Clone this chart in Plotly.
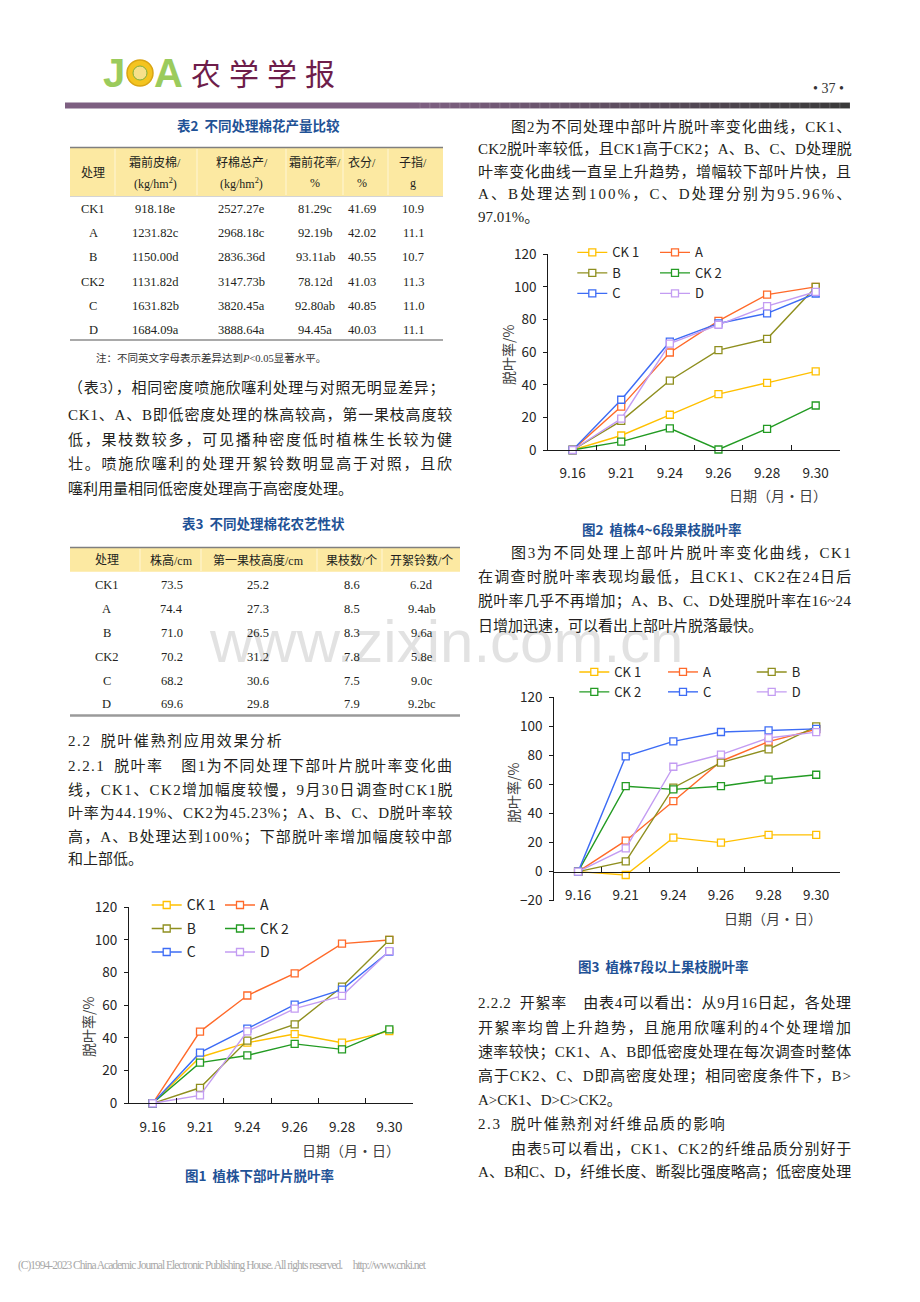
import plotly.graph_objects as go

# The page body has an 8px default margin, so the figure is 8px smaller and offset.
OFF = 8
FW, FH = 920 - OFF, 1302 - OFF
def X(p): return (p - OFF) / FW
def Y(p): return 1 - (p - OFF) / FH

BODY = "Liberation Serif, Noto Sans CJK SC"
CJK = "Noto Sans CJK SC"
TXT = "#231F20"
BLUE = "#1F5296"

# ---------------- data ----------------
dates = ["9.16", "9.21", "9.24", "9.26", "9.28", "9.30"]
series_names = ["CK 1", "A", "B", "CK 2", "C", "D"]
series_colors = ["#FFC000", "#FF6A2A", "#8F8F1F", "#239B23", "#3D6CF5", "#C39CF2"]

fig1_ck1 = [0, 28.2, 37.1, 42.4, 37.1, 44.19]
fig1_a = [0, 43.9, 66.0, 79.5, 97.8, 100]
fig1_b = [0, 9.5, 38.4, 48.3, 71.4, 100]
fig1_ck2 = [0, 24.9, 29.3, 36.4, 33.0, 45.23]
fig1_c = [0, 31.0, 45.7, 60.4, 69.6, 92.9]
fig1_d = [0, 4.8, 44.0, 58.0, 65.8, 93.2]

fig2_ck1 = [0, 8.9, 21.6, 34.3, 41.2, 48.2]
fig2_a = [0, 26.6, 59.8, 79.2, 95.3, 100]
fig2_b = [0, 17.9, 42.6, 61.2, 68.2, 100]
fig2_ck2 = [0, 5.1, 13.3, 0.3, 13.0, 27.3]
fig2_c = [0, 30.8, 66.4, 77.6, 83.8, 95.96]
fig2_d = [0, 19.2, 65.2, 76.8, 88.2, 97.01]

fig3_ck1 = [0, -2.3, 23.4, 20.0, 25.3, 25.3]
fig3_a = [0, 21.3, 48.5, 76.0, 89.5, 98.0]
fig3_b = [0, 7.0, 57.8, 75.0, 84.2, 100]
fig3_ck2 = [0, 58.8, 56.6, 58.8, 63.4, 66.7]
fig3_c = [0, 79.4, 89.7, 96.1, 97.2, 98.3]
fig3_d = [0, 16.0, 72.2, 80.6, 92.0, 96.0]

y_ticks_12 = [0, 20, 40, 60, 80, 100, 120]
y_ticks_3 = [-20, 0, 20, 40, 60, 80, 100, 120]

t2_treat = ["CK1", "A", "B", "CK2", "C", "D"]
t2_lint = ["918.18e", "1231.82c", "1150.00d", "1131.82d", "1631.82b", "1684.09a"]
t2_seed = ["2527.27e", "2968.18c", "2836.36d", "3147.73b", "3820.45a", "3888.64a"]
t2_rate = ["81.29c", "92.19b", "93.11ab", "78.12d", "92.80ab", "94.45a"]
t2_lintpct = ["41.69", "42.02", "40.55", "41.03", "40.85", "40.03"]
t2_seedidx = ["10.9", "11.1", "10.7", "11.3", "11.0", "11.1"]
t2_head1 = ["霜前皮棉/", "籽棉总产/", "霜前花率/", "衣分/", "子指/"]
t2_head2 = ["(kg/hm<sup>2</sup>)", "(kg/hm<sup>2</sup>)", "%", "%", "g"]

t3_treat = ["CK1", "A", "B", "CK2", "C", "D"]
t3_height = ["73.5", "74.4", "71.0", "70.2", "68.2", "69.6"]
t3_first = ["25.2", "27.3", "26.5", "31.2", "30.6", "29.8"]
t3_branches = ["8.6", "8.5", "8.3", "7.8", "7.5", "7.9"]
t3_bolls = ["6.2d", "9.4ab", "9.6a", "5.8e", "9.0c", "9.2bc"]
t3_head = ["处理", "株高/cm", "第一果枝高度/cm", "果枝数/个", "开絮铃数/个"]

fig = go.Figure()

# ---------------- charts ----------------
charts = [
    dict(xa="x", ya="y", data=[fig1_ck1, fig1_a, fig1_b, fig1_ck2, fig1_c, fig1_d],
         legs=["legend", "legend2", "legend", "legend2", "legend", "legend2"]),
    dict(xa="x2", ya="y2", data=[fig2_ck1, fig2_a, fig2_b, fig2_ck2, fig2_c, fig2_d],
         legs=["legend3", "legend4", "legend3", "legend4", "legend3", "legend4"]),
    dict(xa="x3", ya="y3", data=[fig3_ck1, fig3_a, fig3_b, fig3_ck2, fig3_c, fig3_d],
         legs=["legend5", "legend6", "legend7", "legend5", "legend6", "legend7"]),
]
for ci, ch in enumerate(charts):
    for name, col, vals, lg in zip(series_names, series_colors, ch["data"], ch["legs"]):
        fig.add_trace(go.Scatter(
            x=dates, y=vals, mode="lines+markers", name=name,
            line=dict(color=col, width=1.4),
            marker=dict(symbol="square", size=7, color="white", line=dict(color=col, width=1.3)),
            xaxis=ch["xa"], yaxis=ch["ya"], legend=lg, legendgroup=f"g{ci}_{name}",
            cliponaxis=False, hoverinfo="skip"))

tickfont = dict(family=CJK, size=13.5, color="#262626")
def xax(dom, anchor, **kw):
    d = dict(domain=[X(dom[0]), X(dom[1])], anchor=anchor, type="category", range=[-0.5, 5.5],
             showline=True, linecolor="#1a1a1a", linewidth=1, ticks="inside", tickson="boundaries",
             ticklen=5, tickcolor="#1a1a1a", tickfont=tickfont, ticklabelstandoff=11,
             showgrid=False, zeroline=False, fixedrange=True, automargin=False)
    d.update(kw)
    return d
def yax(dom, anchor, rng, tv):
    return dict(domain=[Y(dom[0]), Y(dom[1])], anchor=anchor, range=rng, tickvals=tv,
                showline=True, linecolor="#1a1a1a", linewidth=1, ticks="outside", ticklen=4,
                tickcolor="#1a1a1a", tickfont=tickfont, ticklabelstandoff=4,
                showgrid=False, zeroline=False, fixedrange=True, automargin=False)

fig.update_layout(
    xaxis=xax((129, 413), "y"),
    yaxis=yax((1103.3, 907.3), "x", [0, 120], y_ticks_12),
    xaxis2=xax((548.3, 840), "y2"),
    yaxis2=yax((450, 254.3), "x2", [0, 120], y_ticks_12),
    xaxis3=xax((554.3, 840), "free", position=Y(871.7)),
    yaxis3=yax((900.7, 697.3), "x3", [-20, 120], y_ticks_3),
)

def legend_cfg(x_px, top_px, fs, gap):
    return dict(x=X(x_px), y=Y(top_px), xanchor="left", yanchor="top", orientation="v",
                bgcolor="rgba(0,0,0,0)", borderwidth=0, itemwidth=30, traceorder="grouped",
                font=dict(family=CJK, size=fs, color="#262626"), tracegroupgap=gap)

fig.update_layout(
    legend=legend_cfg(146.7, 889.4, 14, 2.3),
    legend2=legend_cfg(220, 889.4, 14, 2.3),
    legend3=legend_cfg(572.3, 237.4, 13, 0.6),
    legend4=legend_cfg(655, 237.4, 13, 0.6),
    legend5=legend_cfg(574.3, 657.0, 13, 0),
    legend6=legend_cfg(663, 657.0, 13, 0),
    legend7=legend_cfg(751.7, 657.0, 13, 0),
)

ann = []
shapes = []

def txt(x, y, s, size=12, family=BODY, color=TXT, xanchor="center", angle=0, bold=False):
    if bold:
        s = f"<b>{s}</b>"
    ann.append(dict(x=X(x), y=Y(y), xref="paper", yref="paper", text=s, showarrow=False,
                    xanchor=xanchor, yanchor="middle", textangle=angle, borderpad=0,
                    font=dict(family=family, size=size, color=color)))

# watermark (first -> bottom, translucent so marks stay visible)
txt(446, 642, "www.zixin.com.cn", size=60, family="Liberation Sans", color="rgba(160,160,160,0.30)")

# axis titles
for (x, y) in [(88, 1027), (508, 355), (513, 793)]:
    txt(x, y, "脱叶率/%", size=14, family=CJK, color="#404040", angle=-90)
for (x, y) in [(351, 1150), (778, 495), (773, 918)]:
    txt(x, y, "日期（月·日）", size=14, family=CJK, color="#404040")

# captions
txt(259, 1175, "图1  植株下部叶片脱叶率", size=13.5, family=CJK, color=BLUE, bold=True)
txt(662, 529, "图2  植株4~6段果枝脱叶率", size=13.5, family=CJK, color=BLUE, bold=True)
txt(663, 966, "图3  植株7段以上果枝脱叶率", size=13.5, family=CJK, color=BLUE, bold=True)
txt(258, 125, "表2  不同处理棉花产量比较", size=13.5, family=CJK, color=BLUE, bold=True)
txt(263, 523, "表3  不同处理棉花农艺性状", size=13.5, family=CJK, color=BLUE, bold=True)

# ---------------- table 2 ----------------
shapes.append(dict(type="rect", xref="paper", yref="paper", x0=X(70), x1=X(443), y0=Y(196), y1=Y(148),
                   fillcolor="#FCE9A2", line=dict(width=0), layer="below"))
for xs in [115, 197, 286, 343, 388]:
    shapes.append(dict(type="line", xref="paper", yref="paper", x0=X(xs), x1=X(xs), y0=Y(195), y1=Y(149),
                       line=dict(color="#FFF6D6", width=1)))
shapes.append(dict(type="line", xref="paper", yref="paper", x0=X(70), x1=X(443), y0=Y(147.5), y1=Y(147.5),
                   line=dict(color="#7F7F7F", width=1.3)))
shapes.append(dict(type="line", xref="paper", yref="paper", x0=X(70), x1=X(443), y0=Y(196.5), y1=Y(196.5),
                   line=dict(color="#C9C9C9", width=0.8)))
shapes.append(dict(type="line", xref="paper", yref="paper", x0=X(70), x1=X(443), y0=Y(340), y1=Y(340),
                   line=dict(color="#8C8C8C", width=1.5)))
t2_cols = [93.3, 155, 241.7, 315, 361.7, 413]
txt(t2_cols[0], 172.5, "处理", size=12)
for cx, h1, h2 in zip(t2_cols[1:], t2_head1, t2_head2):
    txt(cx, 162.7, h1, size=12)
    txt(cx, 183.3, h2, size=12)
t2_rows = [209, 233.3, 257.3, 281.7, 305.7, 330]
for i, ry in enumerate(t2_rows):
    for cx, col in zip(t2_cols, [t2_treat, t2_lint, t2_seed, t2_rate, t2_lintpct, t2_seedidx]):
        txt(cx, ry, col[i], size=12.5)
ann.append(dict(x=X(95), y=Y(358), xref="paper", yref="paper", showarrow=False, xanchor="left",
                yanchor="middle", borderpad=0,
                text="注：不同英文字母表示差异达到<i>P</i>&lt;0.05显著水平。",
                font=dict(family=BODY, size=10.5, color="#333333")))

# ---------------- table 3 ----------------
shapes.append(dict(type="rect", xref="paper", yref="paper", x0=X(70), x1=X(460), y0=Y(571.7), y1=Y(548),
                   fillcolor="#FCE9A2", line=dict(width=0), layer="below"))
for xs in [140, 201, 317, 382]:
    shapes.append(dict(type="line", xref="paper", yref="paper", x0=X(xs), x1=X(xs), y0=Y(571), y1=Y(549),
                       line=dict(color="#FFF6D6", width=1)))
shapes.append(dict(type="line", xref="paper", yref="paper", x0=X(70), x1=X(460), y0=Y(547.5), y1=Y(547.5),
                   line=dict(color="#7F7F7F", width=1.3)))
shapes.append(dict(type="line", xref="paper", yref="paper", x0=X(70), x1=X(460), y0=Y(715.5), y1=Y(715.5),
                   line=dict(color="#9A9A9A", width=2.5)))
t3_cols = [106.7, 171.7, 258, 351.7, 421.7]
for cx, h in zip(t3_cols, t3_head):
    txt(cx, 560, h, size=12)
t3_rows = [585, 609, 632.7, 656.7, 680.7, 704.3]
for i, ry in enumerate(t3_rows):
    for cx, col in zip(t3_cols, [t3_treat, t3_height, t3_first, t3_branches, t3_bolls]):
        txt(cx, ry, col[i], size=12.5)

# ---------------- body text ----------------
def em_width(s):
    w = 0.0
    for ch in s:
        o = ord(ch)
        if ch == "\u2002":
            w += 0.5
        elif o >= 0x2E80:
            w += 1.0
        elif ch.isdigit():
            w += 0.5
        elif ch.isupper():
            w += 0.69
        elif ch.islower():
            w += 0.46
        elif ch in ".,":
            w += 0.25
        elif ch == "%":
            w += 0.83
        elif ch == " ":
            w += 0.25
        elif ch in "<>~":
            w += 0.56
        else:
            w += 0.5
    return w

def line(x0, x1, yc, s, justify=True, fs=15, ls_default=0.0):
    n = len(s)
    if justify and n > 1:
        ls = (x1 - x0 - em_width(s) * fs) / (n - 1)
    else:
        ls = ls_default
    esc = s.replace("&", "&amp;").replace("<", "&lt;").replace(">", "&gt;")
    ann.append(dict(x=X(x0), y=Y(yc), xref="paper", yref="paper", showarrow=False,
                    xanchor="left", yanchor="middle", borderpad=0,
                    text=f'<span style="letter-spacing:{ls:.2f}px">{esc}</span>',
                    font=dict(family=BODY, size=fs, color=TXT)))

L0, L1 = 67, 451
R0, R1 = 477, 850
IND = 510

block1 = ["（表3），相同密度喷施欣噻利处理与对照无明显差异；",
          "CK1、A、B即低密度处理的株高较高，第一果枝高度较",
          "低，果枝数较多，可见播种密度低时植株生长较为健",
          "壮。喷施欣噻利的处理开絮铃数明显高于对照，且欣",
          "噻利用量相同低密度处理高于高密度处理。"]
for i, (s, yc) in enumerate(zip(block1, [388, 414, 439, 463.5, 488.5])):
    line(L0, L1, yc, s, justify=(i < 4))

line(L0, L1, 740.5, "2.2\u2002脱叶催熟剂应用效果分析", justify=False, ls_default=1.6)
block2 = ["2.2.1\u2002脱叶率\u2002\u2002图1为不同处理下部叶片脱叶率变化曲",
          "线，CK1、CK2增加幅度较慢，9月30日调查时CK1脱",
          "叶率为44.19%、CK2为45.23%；A、B、C、D脱叶率较",
          "高，A、B处理达到100%；下部脱叶率增加幅度较中部",
          "和上部低。"]
for i, (s, yc) in enumerate(zip(block2, [766, 790, 813.3, 836.7, 859])):
    line(L0, L1, yc, s, justify=(i < 4))

block3 = ["图2为不同处理中部叶片脱叶率变化曲线，CK1、",
          "CK2脱叶率较低，且CK1高于CK2；A、B、C、D处理脱",
          "叶率变化曲线一直呈上升趋势，增幅较下部叶片快，且",
          "A、B处理达到100%，C、D处理分别为95.96%、",
          "97.01%。"]
for i, (s, yc) in enumerate(zip(block3, [127, 149.5, 172, 194.5, 217.5])):
    line(IND if i == 0 else R0, R1, yc, s, justify=(i < 4))

block4 = ["图3为不同处理上部叶片脱叶率变化曲线，CK1",
          "在调查时脱叶率表现均最低，且CK1、CK2在24日后",
          "脱叶率几乎不再增加；A、B、C、D处理脱叶率在16~24",
          "日增加迅速，可以看出上部叶片脱落最快。"]
for i, (s, yc) in enumerate(zip(block4, [552.5, 577, 601.5, 625.5])):
    line(IND if i == 0 else R0, R1, yc, s, justify=(i < 3))

block5 = ["2.2.2\u2002开絮率\u2002\u2002由表4可以看出：从9月16日起，各处理",
          "开絮率均曾上升趋势，且施用欣噻利的4个处理增加",
          "速率较快；CK1、A、B即低密度处理在每次调查时整体",
          "高于CK2、C、D即高密度处理；相同密度条件下，B>",
          "A>CK1、D>C>CK2。"]
for i, (s, yc) in enumerate(zip(block5, [1003.3, 1027.3, 1051.7, 1076, 1100])):
    line(R0, R1, yc, s, justify=(i < 4))
line(R0, R1, 1124, "2.3\u2002脱叶催熟剂对纤维品质的影响", justify=False, ls_default=1.6)
block6 = ["由表5可以看出，CK1、CK2的纤维品质分别好于",
          "A、B和C、D，纤维长度、断裂比强度略高；低密度处理"]
for i, (s, yc) in enumerate(zip(block6, [1149, 1172.7])):
    line(IND if i == 0 else R0, R1, yc, s, justify=True)

# ---------------- header ----------------
shapes.append(dict(type="circle", xref="paper", yref="paper", x0=X(127), x1=X(153), y0=Y(86), y1=Y(60),
                   fillcolor="#F4C41F", line=dict(color="#D9A514", width=1.5)))
shapes.append(dict(type="circle", xref="paper", yref="paper", x0=X(133), x1=X(147), y0=Y(80), y1=Y(66),
                   fillcolor="#F7E08A", line=dict(color="#7DAF3C", width=1)))
txt(114, 73, "J", size=40, family="Liberation Sans", color="#9BCB5C", bold=True)
txt(168, 73, "A", size=40, family="Liberation Sans", color="#9BCB5C", bold=True)
ann.append(dict(x=X(190), y=Y(72), xref="paper", yref="paper", showarrow=False, xanchor="left",
                yanchor="middle", borderpad=0,
                text='<span style="letter-spacing:8px">农学学报</span>',
                font=dict(family=CJK, size=30, color="#6E1D4A")))
txt(828, 88, "• 37 •", size=14, family="Liberation Serif", color="#333333")

# header bar
shapes.append(dict(type="rect", xref="paper", yref="paper", x0=X(65), x1=X(420), y0=Y(108.5), y1=Y(102.5),
                   fillcolor="#7D5F81", line=dict(width=0)))
nseg = 43
c0 = (125, 95, 129)
c1 = (58, 58, 58)
for k in range(nseg):
    t = k / (nseg - 1)
    r, g, b = [int(a + (bb - a) * t) for a, bb in zip(c0, c1)]
    xa = 420 + k * 10
    shapes.append(dict(type="rect", xref="paper", yref="paper", x0=X(xa), x1=X(min(xa + 10, 850)),
                       y0=Y(108.5), y1=Y(102.5), fillcolor=f"rgb({r},{g},{b})",
                       line=dict(color="rgba(255,255,255,0.25)", width=0.5)))

# footer
ann.append(dict(x=X(17), y=Y(1265.5), xref="paper", yref="paper", showarrow=False, xanchor="left",
                yanchor="middle", borderpad=0,
                text='<span style="letter-spacing:-1.0px">(C)1994-2023 China Academic Journal Electronic Publishing House. All rights reserved.\u2003http://www.cnki.net</span>',
                font=dict(family="Liberation Serif", size=11.5, color="#A8A8A8")))

fig.update_layout(
    width=FW, height=FH, margin=dict(l=0, r=0, t=0, b=0, pad=0, autoexpand=False),
    paper_bgcolor="white", plot_bgcolor="rgba(0,0,0,0)",
    showlegend=True, annotations=ann, shapes=shapes,
    font=dict(family=CJK, color="#333333"),
)

fig.write_html("out.html")
